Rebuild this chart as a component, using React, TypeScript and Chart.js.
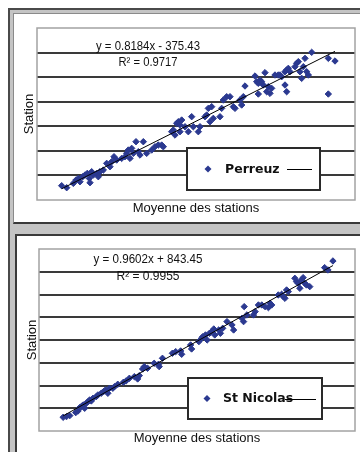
import React, { useEffect, useRef } from "react";
import { Chart, registerables } from "chart.js";

Chart.register(...registerables);

// ---------- data ----------
const perreuzX = [
  1017, 1142, 1308, 1375, 1433, 1475, 1542, 1600, 1658, 1708, 1725, 1767, 1808, 1892, 1933, 1975, 2058, 2142, 2225, 2267,
  2325, 2392, 2517, 2600, 2642, 2683, 2725, 2767, 2808, 2875, 2933, 2975, 3058, 3142, 3267, 3350, 3433, 3517, 3558,
  3767, 3808, 3850, 3892, 3933, 3975, 4017, 3975, 4100, 4183, 4267, 4308, 4433, 4475, 4600, 4642, 4683, 4725, 4767, 4808,
  4975, 5017, 5058, 5142, 5225, 5308, 5350, 5475, 5517, 5558, 5600,
  5850, 5892, 5933, 5975, 6017, 6058, 5933, 6100, 6142, 6183, 6225, 6267, 6350, 6433, 6475, 6517, 6600, 6642, 6600, 6642,
  6683, 6725, 6850, 6892, 6933, 6975, 7017, 7058, 7100, 7142, 7183, 7267, 7683, 7850, 7683,
];
const perreuzY = [
  582, 500, 676, 812, 880, 744, 948, 1016, 1084, 880, 704, 1151, 1016, 1084, 948, 1151, 1219, 1491, 1355, 1559,
  1762, 1626, 1694, 1762, 1898, 2034, 1694, 2102, 1898, 2373, 1966, 1830, 2373, 1898, 2034, 2169, 2237, 2237, 2169,
  2780, 2848, 2644, 3119, 3187, 3051, 3255, 2780, 2983, 2780, 3391, 2983, 2780, 2983, 3391, 3458, 3730, 3187, 3798, 3323,
  3391, 3730, 4069, 4205, 4205, 3798, 3730, 4069, 3866, 4205, 4639,
  5046, 4815, 4748, 4883, 4815, 4680, 4313, 5182, 4408, 4612, 4340, 4544, 5087, 5087, 5087, 5019, 5222, 5290, 4680, 4408,
  5358, 5222, 5426, 5562, 5630, 5222, 4951, 5426, 5765, 5222, 5087, 6010, 5765, 5657, 4313,
];
const nicolasX = [
  856, 941, 1025, 1177, 1236, 1278, 1320, 1363, 1405, 1447, 1489, 1532, 1574, 1616, 1700, 1743, 1827, 1886, 1937, 1996,
  2038, 2123, 2165, 2249, 2393, 2460, 2545, 2672, 2756, 2798, 2882, 2925, 3009, 3178, 3288, 3389, 3305,
  3642, 3727, 3853, 3879, 4107, 4132, 4318, 4385, 4419, 4487, 4529, 4588, 4639, 4698, 4723, 4824, 4867, 4926, 5035, 5162,
  5204, 5415, 5458, 5474, 5542,
  5711, 5753, 5837, 5922, 6006, 6091, 6133, 6175, 6344, 6429, 6471, 6513, 6555, 6598, 6766, 6808, 6851, 6893, 6935, 6977,
  7019, 7062, 7146, 7526, 7737, 7610,
];
const nicolasY = [
  1603, 1632, 1676, 1808, 1881, 2028, 2072, 2145, 1999, 2218, 2292, 2365, 2321, 2438, 2511, 2585, 2658, 2731, 2805, 2658,
  2878, 2878, 2951, 3054, 3141, 3200, 3317, 3390, 3288, 3434, 3727, 3830, 3757, 3976, 3932, 4196, 3830,
  4416, 4489, 4519, 4372, 4782, 4606, 4929, 5075, 5148, 5222, 5002, 5295, 5368, 5485, 5222, 5441, 5295, 5515, 5808, 5661,
  5441, 5954, 5808, 6467, 6101,
  6101, 6247, 6540, 6540, 6467, 6423, 6613, 6540, 6980, 7009, 6906, 6833, 7199, 7126, 7712, 7566, 7492, 7273, 7639, 7741,
  7492, 7419, 7346, 8181, 8474, 8078,
];

const seriesNames = ["Perreuz", "St Nicolas"];
const trendSlopes = [0.8184, 0.9602];
const trendIntercepts = [-375.43, 843.45];
const equationLabels = ["y = 0.8184x - 375.43", "y = 0.9602x + 843.45"];
const r2Labels = ["R² = 0.9717", "R² = 0.9955"];
const xAxisTitle = "Moyenne des stations";
const yAxisTitle = "Station";
const perreuzXRange = [400, 8350];
const perreuzYRange = [0, 7000];
const nicolasXRange = [240, 8300];
const nicolasYRange = [1000, 9000];
const yStep = 1000;

// ---------- styles ----------
const MARKER = "#2b3990";
const GRID = "#3a3a3a";

const decorPlugin = {
  id: "decor",
  beforeDatasetsDraw(chart: any) {
    const { ctx, chartArea: a } = chart;
    ctx.save();
    ctx.strokeStyle = "#a3a3a3";
    ctx.lineWidth = 1.5;
    ctx.strokeRect(a.left, a.top, a.right - a.left, a.bottom - a.top);
    ctx.restore();
  },
  afterDraw(chart: any, _args: any, o: any) {
    const { ctx, chartArea: a } = chart;
    ctx.save();
    ctx.fillStyle = "#111";
    ctx.textAlign = "center";
    ctx.textBaseline = "middle";
    // equation (condensed to the width seen in the reference)
    ctx.font = '13.5px "Liberation Sans", Arial, sans-serif';
    ctx.fillText(o.equation, a.left + o.eqX, a.top + o.eqY1, o.eqW);
    ctx.fillText(o.r2, a.left + o.eqX, a.top + o.eqY2, o.r2W);
    // axis titles
    ctx.font = '13px "Liberation Sans", Arial, sans-serif';
    ctx.fillText(o.xTitle, (a.left + a.right) / 2, a.bottom + o.xTitleDy);
    ctx.save();
    ctx.translate(a.left - o.yTitleDx, (a.top + a.bottom) / 2);
    ctx.rotate(-Math.PI / 2);
    ctx.fillText(o.yTitle, 0, 0);
    ctx.restore();
    // legend
    const L = o.legend;
    const lx = a.left + L.x;
    const ly = a.top + L.y;
    ctx.fillStyle = "#fff";
    ctx.fillRect(lx, ly, L.w, L.h);
    ctx.strokeStyle = "#2a2a2a";
    ctx.lineWidth = 2;
    ctx.strokeRect(lx, ly, L.w, L.h);
    const cy = ly + L.h / 2;
    // marker
    const mx = a.left + L.markerX;
    const r = 3.5;
    ctx.fillStyle = MARKER;
    ctx.beginPath();
    ctx.moveTo(mx - r, cy);
    ctx.lineTo(mx, cy - r);
    ctx.lineTo(mx + r, cy);
    ctx.lineTo(mx, cy + r);
    ctx.closePath();
    ctx.fill();
    // text
    ctx.fillStyle = "#111";
    ctx.textAlign = "left";
    ctx.font = 'bold 12.5px "DejaVu Sans", sans-serif';
    ctx.fillText(o.name, a.left + L.textX, cy + 0.5);
    // line sample
    ctx.strokeStyle = "#000";
    ctx.lineWidth = 1;
    ctx.beginPath();
    ctx.moveTo(a.left + L.lineX1, Math.round(cy) + 0.5);
    ctx.lineTo(a.left + L.lineX2, Math.round(cy) + 0.5);
    ctx.stroke();
    ctx.restore();
  },
};

type PanelProps = {
  xs: number[];
  ys: number[];
  slope: number;
  intercept: number;
  name: string;
  equation: string;
  r2: string;
  xRange: number[];
  yRange: number[];
  width: number;
  height: number;
  padding: { left: number; top: number; right: number; bottom: number };
  eqX: number;
  eqY1: number;
  eqY2: number;
  eqW: number;
  r2W: number;
  xTitleDy: number;
  yTitleDx: number;
  legend: any;
};

function Panel(p: PanelProps) {
  const ref = useRef<HTMLCanvasElement>(null);
  useEffect(() => {
    if (!ref.current) return;
    const pts = p.xs.map((x, i) => ({ x, y: p.ys[i] }));
    const xMin = Math.min(...p.xs);
    const xMax = Math.max(...p.xs);
    const trend = [
      { x: xMin, y: p.slope * xMin + p.intercept },
      { x: xMax, y: p.slope * xMax + p.intercept },
    ];
    const yMin = p.yRange[0];
    const yMax = p.yRange[1];
    const chart = new Chart(ref.current, {
      type: "scatter",
      data: {
        datasets: [
          {
            type: "line",
            label: "trend",
            data: trend,
            borderColor: "#000",
            borderWidth: 1,
            pointRadius: 0,
            fill: false,
            order: 0,
          } as any,
          {
            label: p.name,
            data: pts,
            pointStyle: "rectRot",
            pointRadius: 3.2,
            pointBorderWidth: 1,
            backgroundColor: MARKER,
            borderColor: MARKER,
            order: 1,
          },
        ],
      },
      options: {
        responsive: false,
        animation: false,
        devicePixelRatio: 1,
        layout: { padding: p.padding },
        scales: {
          x: {
            type: "linear",
            display: false,
            min: p.xRange[0],
            max: p.xRange[1],
          },
          y: {
            type: "linear",
            min: yMin,
            max: yMax,
            ticks: { display: false, stepSize: yStep },
            border: { display: false },
            grid: {
              drawTicks: false,
              lineWidth: 2,
              color: (c: any) =>
                c.tick && (c.tick.value === yMin || c.tick.value === yMax) ? "rgba(0,0,0,0)" : GRID,
            },
          },
        },
        plugins: {
          legend: { display: false },
          tooltip: { enabled: false },
          decor: {
            equation: p.equation,
            r2: p.r2,
            name: p.name,
            xTitle: xAxisTitle,
            yTitle: yAxisTitle,
            eqX: p.eqX,
            eqY1: p.eqY1,
            eqY2: p.eqY2,
            eqW: p.eqW,
            r2W: p.r2W,
            xTitleDy: p.xTitleDy,
            yTitleDx: p.yTitleDx,
            legend: p.legend,
          },
        } as any,
      },
      plugins: [decorPlugin],
    });
    return () => chart.destroy();
  }, []);
  return (
    <canvas
      ref={ref}
      width={p.width}
      height={p.height}
      style={{ position: "absolute", left: 0, top: 0, width: p.width, height: p.height }}
    />
  );
}

export default function App() {
  return (
    <div style={{ position: "absolute", left: 0, top: 0, width: 360, height: 452, overflow: "hidden", background: "#fff" }}>
      <div
        style={{
          position: "absolute",
          left: 8,
          top: 8,
          width: 400,
          height: 500,
          background: "#c4c4c4",
          borderLeft: "2px solid #4a4a4a",
          borderTop: "2px solid #4a4a4a",
        }}
      />
      <div
        style={{
          position: "absolute",
          left: 13,
          top: 13,
          width: 400,
          height: 208,
          background: "#fff",
          borderLeft: "1px solid #8a8a8a",
          borderTop: "1px solid #8a8a8a",
          borderBottom: "2px solid #3a3a3a",
        }}
      >
        <Panel
          xs={perreuzX}
          ys={perreuzY}
          slope={trendSlopes[0]}
          intercept={trendIntercepts[0]}
          name={seriesNames[0]}
          equation={equationLabels[0]}
          r2={r2Labels[0]}
          xRange={perreuzXRange}
          yRange={perreuzYRange}
          width={346}
          height={208}
          padding={{ left: 23, top: 14, right: 5, bottom: 22 }}
          eqX={111}
          eqY1={18}
          eqY2={34}
          eqW={104}
          r2W={59}
          xTitleDy={8}
          yTitleDx={8}
          legend={{ x: 150, y: 120, w: 133, h: 42, markerX: 171, textX: 188, lineX1: 250, lineX2: 275 }}
        />
      </div>
      <div
        style={{
          position: "absolute",
          left: 15,
          top: 234,
          width: 400,
          height: 300,
          background: "#fff",
          borderLeft: "2px solid #3a3a3a",
          borderTop: "2px solid #3a3a3a",
        }}
      >
        <Panel
          xs={nicolasX}
          ys={nicolasY}
          slope={trendSlopes[1]}
          intercept={trendIntercepts[1]}
          name={seriesNames[1]}
          equation={equationLabels[1]}
          r2={r2Labels[1]}
          xRange={nicolasXRange}
          yRange={nicolasYRange}
          width={343}
          height={216}
          padding={{ left: 22, top: 13, right: 3, bottom: 21 }}
          eqX={109}
          eqY1={10.5}
          eqY2={27.7}
          eqW={109}
          r2W={63}
          xTitleDy={7}
          yTitleDx={7}
          legend={{ x: 149, y: 129, w: 134, h: 41, markerX: 168, textX: 184, lineX1: 246, lineX2: 277 }}
        />
      </div>
    </div>
  );
}
